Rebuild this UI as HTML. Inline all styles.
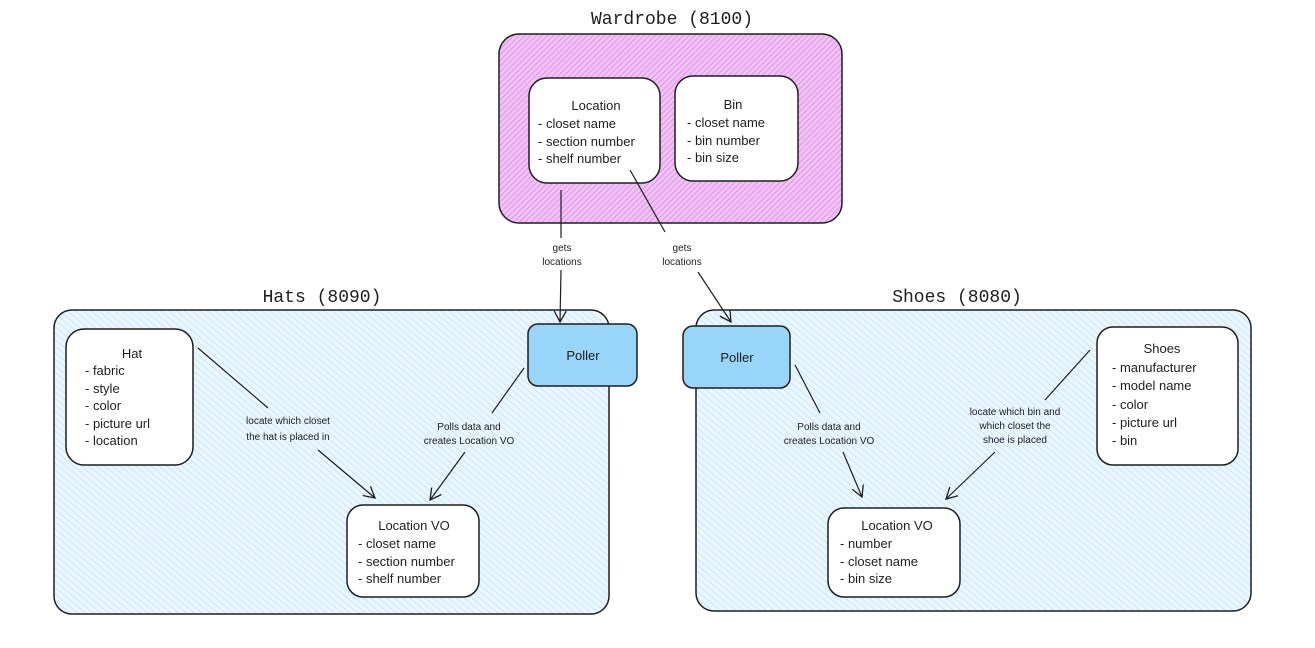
<!DOCTYPE html>
<html><head><meta charset="utf-8"><style>
body{margin:0;background:#fff}
svg text{font-family:"Liberation Sans",sans-serif;fill:#1e1e1e}
.t{font-size:13px}
.s{font-size:10px}
.h{font-size:18px;font-family:"Liberation Mono",monospace}
</style></head><body>
<svg width="1315" height="643" viewBox="0 0 1315 643" xmlns="http://www.w3.org/2000/svg">
<defs>
<pattern id="pk" width="4" height="4" patternUnits="userSpaceOnUse" patternTransform="rotate(45)">
<rect width="4" height="4" fill="#efc3f3"/><line x1="0" y1="0" x2="0" y2="4" stroke="#dc7ae8" stroke-width="1.3"/></pattern>
<pattern id="bl" width="5" height="5" patternUnits="userSpaceOnUse" patternTransform="rotate(-50)">
<rect width="5" height="5" fill="#eaf6fe"/><line x1="0" y1="0" x2="0" y2="5" stroke="#b0dcf7" stroke-width="1.1"/></pattern>
<marker id="a" markerWidth="14" markerHeight="14" refX="12" refY="7" orient="auto" markerUnits="userSpaceOnUse">
<path d="M1,1 L12,7 L1,13" fill="none" stroke="#1e1e1e" stroke-width="1.3"/></marker>
</defs>
<g stroke="#1e1e1e" stroke-width="1.5">
<rect x="499" y="34" width="343" height="189" rx="20" fill="url(#pk)"/>
<rect x="54" y="310" width="555" height="304" rx="18" fill="url(#bl)"/>
<rect x="696" y="310" width="555" height="301" rx="18" fill="url(#bl)"/>
<rect x="529" y="78" width="131" height="105" rx="18" fill="#fff"/>
<rect x="675" y="76" width="123" height="105" rx="18" fill="#fff"/>
<rect x="66" y="329" width="127" height="136" rx="18" fill="#fff"/>
<rect x="347" y="505" width="132" height="92" rx="16" fill="#fff"/>
<rect x="1097" y="327" width="141" height="138" rx="16" fill="#fff"/>
<rect x="828" y="508" width="132" height="89" rx="16" fill="#fff"/>
<rect x="528" y="324" width="109" height="62" rx="10" fill="#99d5f8"/>
<rect x="683" y="326" width="107" height="62" rx="10" fill="#99d5f8"/>
</g>
<g stroke="#1e1e1e" stroke-width="1.2" fill="none">
<line x1="561" y1="190" x2="561" y2="238"/><line x1="561" y1="270" x2="560" y2="322" marker-end="url(#a)"/>
<line x1="630" y1="170" x2="665" y2="232"/><line x1="698" y1="272" x2="731" y2="322" marker-end="url(#a)"/>
<line x1="198" y1="348" x2="268" y2="408"/><line x1="318" y1="450" x2="375" y2="498" marker-end="url(#a)"/>
<line x1="524" y1="368" x2="492" y2="413"/><line x1="465" y1="452" x2="430" y2="500" marker-end="url(#a)"/>
<line x1="795" y1="365" x2="820" y2="413"/><line x1="843" y1="452" x2="862" y2="497" marker-end="url(#a)"/>
<line x1="1090" y1="350" x2="1045" y2="400"/><line x1="995" y1="452" x2="946" y2="499" marker-end="url(#a)"/>
</g>
<text class="h" x="672" y="24" text-anchor="middle">Wardrobe (8100)</text>
<text class="h" x="322" y="302" text-anchor="middle">Hats (8090)</text>
<text class="h" x="957" y="302" text-anchor="middle">Shoes (8080)</text>
<text class="t" x="596" y="110" text-anchor="middle">Location</text>
<text class="t" x="538" y="128">- closet name</text>
<text class="t" x="538" y="146">- section number</text>
<text class="t" x="538" y="163">- shelf number</text>
<text class="t" x="733" y="109" text-anchor="middle">Bin</text>
<text class="t" x="687" y="127">- closet name</text>
<text class="t" x="687" y="145">- bin number</text>
<text class="t" x="687" y="162">- bin size</text>
<text class="t" x="132" y="358" text-anchor="middle">Hat</text>
<text class="t" x="85" y="375">- fabric</text>
<text class="t" x="85" y="393">- style</text>
<text class="t" x="85" y="410">- color</text>
<text class="t" x="85" y="428">- picture url</text>
<text class="t" x="85" y="445">- location</text>
<text class="t" x="414" y="530" text-anchor="middle">Location VO</text>
<text class="t" x="358" y="548">- closet name</text>
<text class="t" x="358" y="566">- section number</text>
<text class="t" x="358" y="583">- shelf number</text>
<text class="t" x="1162" y="353" text-anchor="middle">Shoes</text>
<text class="t" x="1112" y="372">- manufacturer</text>
<text class="t" x="1112" y="390">- model name</text>
<text class="t" x="1112" y="409">- color</text>
<text class="t" x="1112" y="427">- picture url</text>
<text class="t" x="1112" y="445">- bin</text>
<text class="t" x="897" y="530" text-anchor="middle">Location VO</text>
<text class="t" x="840" y="548">- number</text>
<text class="t" x="840" y="566">- closet name</text>
<text class="t" x="840" y="583">- bin size</text>
<text class="t" x="583" y="360" text-anchor="middle">Poller</text>
<text class="t" x="737" y="362" text-anchor="middle">Poller</text>
<g text-anchor="middle">
<text class="s" x="562" y="251">gets</text><text class="s" x="562" y="265">locations</text>
<text class="s" x="682" y="251">gets</text><text class="s" x="682" y="265">locations</text>
<text class="s" x="288" y="424">locate which closet</text><text class="s" x="288" y="440">the hat is placed in</text>
<text class="s" x="469" y="430">Polls data and</text><text class="s" x="469" y="444">creates Location VO</text>
<text class="s" x="829" y="430">Polls data and</text><text class="s" x="829" y="444">creates Location VO</text>
<text class="s" x="1015" y="415">locate which bin and</text><text class="s" x="1015" y="429">which closet the</text><text class="s" x="1015" y="443">shoe is placed</text>
</g>
</svg>
</body></html>
